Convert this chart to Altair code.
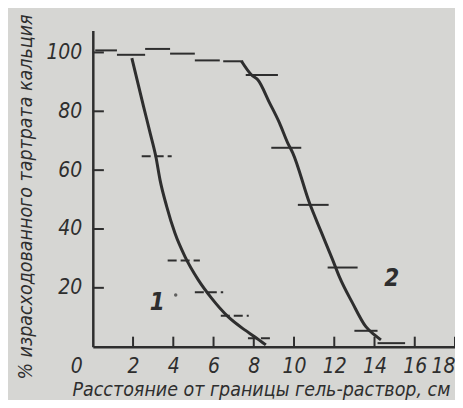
import altair as alt
import pandas as pd

# Curve 1 (solid line)
c1_x = [1.94, 2.52, 2.85, 3.13, 3.34, 3.67, 4.08, 4.58, 5.24, 5.9, 6.72, 7.55, 8.04, 8.6]
c1_y = [98.1, 81.7, 72.6, 64.7, 56.7, 47.7, 38.6, 30.6, 22.7, 16.5, 10.2, 5.7, 3.4, 0.6]

# Curve 2 (solid line)
c2_x = [7.39, 7.88, 8.2, 8.79, 9.28, 9.69, 9.94, 10.77, 11.35, 11.92, 12.25, 12.91, 13.57, 14.0, 14.32]
c2_y = [97.0, 92.4, 90.7, 82.8, 76.0, 69.2, 65.8, 48.8, 39.0, 29.5, 23.8, 14.8, 6.8, 4.0, 2.3]

# Interval bars for curve 1 (dashed)
b1_x1 = [2.43, 3.72, 5.07, 6.36, 7.71]
b1_x2 = [3.92, 5.32, 6.48, 7.75, 8.87]
b1_y = [64.7, 29.3, 18.5, 10.5, 2.9]

# Interval bars for curve 2 (solid)
b2_x1 = [0.12, 1.2, 2.6, 3.84, 5.07, 6.48, 7.6, 8.87, 10.19, 11.67, 13.0, 14.15]
b2_x2 = [1.2, 2.6, 3.84, 5.07, 6.31, 7.47, 9.2, 10.36, 11.72, 13.16, 14.15, 15.52]
b2_y = [100.7, 99.2, 101.2, 99.6, 97.3, 97.0, 92.3, 67.6, 48.2, 26.9, 5.4, 1.2]

x_ticks = [2, 4, 6, 8, 10, 12, 14, 16, 18]
y_ticks = [20, 40, 60, 80, 100]

curve_labels = ["1", "2"]
curve_label_x = [3.2, 14.85]
curve_label_y = [15.0, 23.0]

x_title = "Расстояние от границы гель-раствор, см"
y_title = "% израсходованного тартрата кальция"

INK = "#2e2e2e"
BG = "#d6d6d3"
FONT = "DejaVu Sans Condensed"
W, H = 363, 317

xs = alt.Scale(domain=[0, 18], nice=False, zero=False)
ys = alt.Scale(domain=[0, 107.5], nice=False)

xaxis = alt.Axis(values=[0] + x_ticks, labelExpr="datum.value == 0 ? '' : datum.label",
                 ticks=False, grid=False, domainColor=INK, domainWidth=2.5, labelFlush=True,
                 labelFont=FONT, labelFontSize=21, labelFontStyle="italic", labelColor=INK,
                 labelPadding=9, title=x_title, titleFont=FONT, titleFontSize=19.5,
                 titleFontStyle="italic", titleFontWeight="normal", titleColor=INK, titlePadding=4,
                 titleX=W / 2 - 13)
yaxis = alt.Axis(values=y_ticks, ticks=False, grid=False, domainColor=INK, domainWidth=2.5,
                 labelFont=FONT, labelFontSize=21, labelFontStyle="italic", labelColor=INK,
                 labelPadding=11, title=y_title, titleFont=FONT, titleFontSize=19.5,
                 titleFontStyle="italic", titleFontWeight="normal", titleColor=INK, titlePadding=10,
                 titleY=H / 2 + 8)

c1 = pd.DataFrame({"x": c1_x, "y": c1_y})
c2 = pd.DataFrame({"x": c2_x, "y": c2_y})
b1 = pd.DataFrame({"x": b1_x1, "x2": b1_x2, "y": b1_y})
b2 = pd.DataFrame({"x": b2_x1, "x2": b2_x2, "y": b2_y})
xt = pd.DataFrame({"x": x_ticks, "y0": [0] * len(x_ticks), "y1": [3.4] * len(x_ticks)})
yt = pd.DataFrame({"y": y_ticks, "x0": [0] * len(y_ticks), "x1": [0.55] * len(y_ticks)})
lab = pd.DataFrame({"t": curve_labels, "x": curve_label_x, "y": curve_label_y})

base_axes = alt.Chart(c1).mark_line(strokeWidth=3, color=INK, interpolate="monotone").encode(
    x=alt.X("x:Q", scale=xs, axis=xaxis),
    y=alt.Y("y:Q", scale=ys, axis=yaxis),
)
line2 = alt.Chart(c2).mark_line(strokeWidth=3, color=INK, interpolate="monotone").encode(
    x=alt.X("x:Q", scale=xs), y=alt.Y("y:Q", scale=ys))
bars1 = alt.Chart(b1).mark_rule(strokeWidth=2, color=INK, strokeDash=[9, 4]).encode(
    x=alt.X("x:Q", scale=xs), x2="x2", y=alt.Y("y:Q", scale=ys))
bars2 = alt.Chart(b2).mark_rule(strokeWidth=2, color=INK).encode(
    x=alt.X("x:Q", scale=xs), x2="x2", y=alt.Y("y:Q", scale=ys))
xtick = alt.Chart(xt).mark_rule(strokeWidth=2, color=INK).encode(
    x=alt.X("x:Q", scale=xs), y=alt.Y("y0:Q", scale=ys), y2="y1")
ytick = alt.Chart(yt).mark_rule(strokeWidth=2, color=INK).encode(
    y=alt.Y("y:Q", scale=ys), x=alt.X("x0:Q", scale=xs), x2="x1")
labels = alt.Chart(lab).mark_text(font=FONT, fontSize=24, fontStyle="italic", fontWeight="bold",
                                  color=INK).encode(
    x=alt.X("x:Q", scale=xs), y=alt.Y("y:Q", scale=ys), text="t:N")
dot = alt.Chart(pd.DataFrame({"x": [4.12], "y": [17.6]})).mark_point(
    filled=True, size=12, color=INK).encode(x=alt.X("x:Q", scale=xs), y=alt.Y("y:Q", scale=ys))
zero = alt.Chart(pd.DataFrame({"x": [0], "t": ["0"]})).mark_text(
    font=FONT, fontSize=21, fontStyle="italic", color=INK, dx=-16, baseline="top").encode(
    x=alt.X("x:Q", scale=xs), y=alt.value(H + 9), text="t:N")

chart = alt.layer(base_axes, line2, bars1, bars2, xtick, ytick, labels, dot, zero).properties(
    width=W, height=H, background=BG,
    autosize=alt.AutoSizeParams(type="none"),
    padding={"left": 85, "top": 22, "right": 0, "bottom": 53},
).configure_view(stroke=None)

chart.save("out.html", embed_options={"renderer": "svg", "actions": False})
